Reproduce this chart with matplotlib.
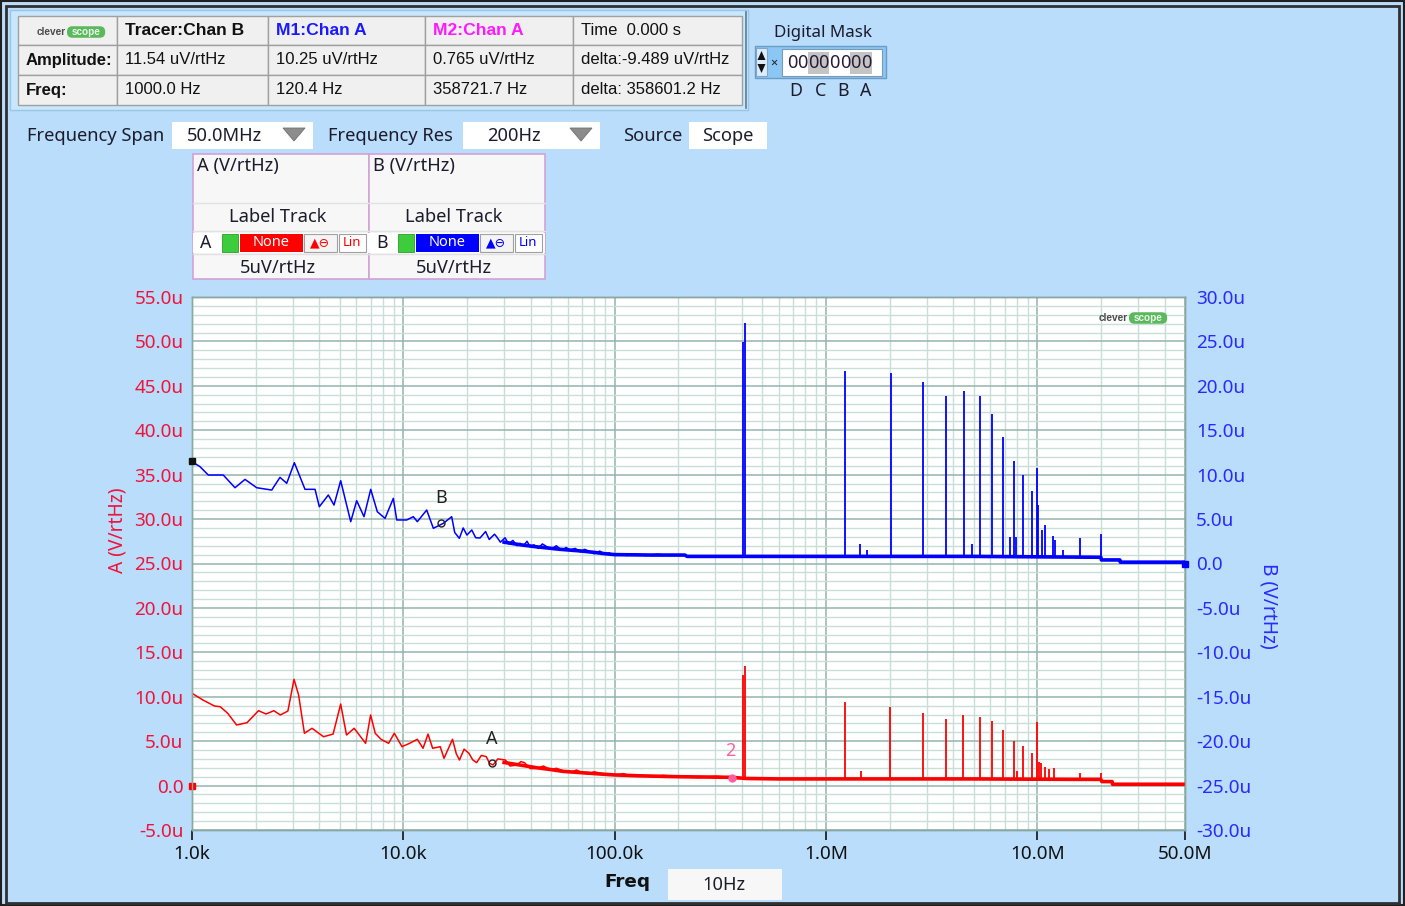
import matplotlib
matplotlib.use("Agg")
import matplotlib.pyplot as plt
from matplotlib.patches import Rectangle, Polygon, FancyBboxPatch
from matplotlib.ticker import FixedLocator, NullFormatter, MultipleLocator

# ---------------- data ----------------
# channel A (red, left axis, uV/rtHz)
A_FREQ = [1000, 1127, 1276, 1360, 1477, 1626, 1821, 2064, 2242, 2439, 2617, 2843,
          3039, 3195, 3404, 3698, 4192, 4654, 5053, 5385, 5851, 6632, 7003, 7362,
          7844, 8519, 9066, 9858, 10710, 11650, 12397, 13090, 13760, 14950, 15580,
          17090, 17800, 18430, 19400, 20440, 21300, 22230, 23400, 24690, 25600,
          26580, 28000, 30390, 32000, 34450, 36000, 37420, 40000, 43300, 46000,
          50100, 53000, 56800, 62000, 66000, 69960, 75000, 80000, 86240, 93000,
          101900, 110000, 120000, 130700, 150000, 170000, 198500, 250000, 300000,
          355500]
A_VAL = [10.39, 9.63, 8.96, 8.88, 8.13, 6.82, 7.08, 8.43, 8.06, 8.43, 7.95, 8.39,
         11.96, 10.2, 5.89, 6.45, 5.5, 5.8, 9.18, 5.69, 6.45, 4.76, 7.95, 5.89,
         5.21, 4.76, 5.89, 4.38, 4.76, 5.21, 4.2, 5.8, 4.2, 4.38, 3.07,
         5.21, 3.6, 2.88, 4.1, 3.63, 2.9, 2.58, 3.4, 3.26, 2.5,
         2.32, 3.0, 2.88, 2.2, 2.32, 2.7, 2.58, 1.9, 1.95, 2.2,
         1.76, 1.95, 1.68, 1.5, 1.75, 1.46, 1.3, 1.55, 1.38, 1.15,
         1.19, 1.35, 1.05, 1.19, 1.0, 1.15, 1.0, 0.9, 1.05,
         0.93]
# channel A noise floor (drawn as a thick band)
A_FLOOR_FREQ = [30e3, 36e3, 43e3, 50e3, 57e3, 70e3, 86e3, 100e3, 130e3, 200e3,
                355e3, 420e3, 600e3, 1e6, 5e6, 15e6, 20e6, 20.2e6, 22.6e6, 22.7e6,
                50e6]
A_FLOOR_VAL = [2.6, 2.3, 2.0, 1.8, 1.6, 1.45, 1.3, 1.2, 1.1, 1.0,
               0.93, 0.8, 0.75, 0.75, 0.75, 0.7, 0.7, 0.45, 0.45, 0.15,
               0.15]
A_SPIKE_FREQ = [403.5e3, 412e3, 1.224e6, 1.46e6, 2.02e6, 2.865e6, 3.7e6, 4.47e6, 5.34e6,
                6.1e6, 6.89e6, 7.72e6, 8.05e6, 8.52e6, 9.42e6, 9.95e6, 10.15e6,
                10.46e6, 10.87e6, 11.35e6, 12.0e6, 15.9e6, 20.1e6]
A_SPIKE_VAL = [12.45, 13.46, 9.44, 1.64, 8.88, 8.13, 7.46, 7.91, 7.72,
               7.27, 6.26, 5.05, 1.68, 4.49, 3.63, 7.19, 2.69,
               2.5, 2.13, 1.9, 2.0, 1.46, 1.46]

# channel B (blue, right axis, uV/rtHz)
B_FREQ = [1000, 1091, 1194, 1406, 1598, 1782, 2024, 2384, 2609, 2807, 3050, 3426,
          3821, 4004, 4417, 4699, 5053, 5637, 6017, 6516, 7011, 7532, 8194, 8968,
          9307, 10380, 11150, 11650, 12900, 13870, 15460, 16940, 17500, 18410,
          19200, 20000, 21080, 22000, 23070, 24500, 25500, 27000, 27670, 28800,
          30290, 31500, 33000, 34500, 35670, 37000, 38500, 39780, 41500, 43500,
          45500, 47710, 50000, 53000, 56000, 59000, 61510, 65000, 69000, 72000,
          76460, 80000, 85000, 90000, 94000, 98590, 105000, 115000, 125000,
          140000, 160000, 180000, 203900]
B_VAL = [11.46, 10.9, 9.96, 9.96, 8.53, 9.47, 8.53, 8.27, 9.7, 9.03, 11.35, 8.35,
         8.35, 6.39, 7.71, 6.58, 9.32, 4.71, 7.07, 5.27, 8.35, 5.83, 5.08, 7.33,
         4.9, 4.9, 5.27, 4.71, 6.02, 3.96, 4.52, 5.27, 3.5, 2.83,
         4.0, 3.2, 3.77, 2.9, 2.87, 3.6, 2.7, 3.3, 3.0, 2.4,
         2.9, 2.2, 2.6, 2.0, 2.27, 2.0, 2.5, 1.9, 2.1, 1.7,
         2.2, 1.9, 1.6, 2.0, 1.5, 1.8, 1.52, 1.7, 1.3, 1.6,
         1.33, 1.1, 1.4, 1.05, 1.2, 0.96, 1.1, 0.9, 1.1,
         0.9, 1.05, 0.9, 0.96]
B_FLOOR_FREQ = [30e3, 36e3, 42e3, 48e3, 55e3, 62e3, 70e3, 80e3, 90e3, 100e3, 150e3,
                215e3, 220e3, 400e3, 1e6, 5e6, 10.3e6, 20e6, 20.1e6, 24.6e6, 24.7e6,
                50e6]
B_FLOOR_VAL = [2.4, 2.1, 1.9, 1.75, 1.6, 1.5, 1.4, 1.25, 1.1, 1.0, 0.95,
               0.95, 0.8, 0.8, 0.8, 0.8, 0.75, 0.7, 0.4, 0.4, 0.15,
               0.15]
B_SPIKE_FREQ = [403.8e3, 412.7e3, 1.2246e6, 1.4501e6, 1.5648e6, 2.0306e6, 2.868e6,
                3.714e6, 4.484e6, 4.935e6, 5.339e6, 6.131e6, 6.89e6, 7.394e6, 7.741e6,
                7.972e6, 8.521e6, 9.42e6, 9.946e6, 10.11e6, 10.54e6, 10.89e6,
                11.84e6, 12.09e6, 13.25e6, 15.86e6, 20.04e6]
B_SPIKE_VAL = [24.97, 27.04, 21.67, 2.2, 1.5, 21.4, 20.4,
               18.86, 19.42, 2.2, 18.86, 16.83, 14.2, 3.0, 11.57,
               3.0, 9.96, 8.2, 10.79, 6.58, 3.77, 4.33,
               3.13, 2.6, 1.52, 2.83, 3.32]

# cursors / markers
TRACER_FREQ, TRACER_AMP = 1000.0, 11.54
M2_FREQ, M2_AMP = 358721.7, 0.765
CURSOR_B = (15080, 4.56)
CURSOR_A = (26290, 2.54)

XTICKS = [1e3, 1e4, 1e5, 1e6, 1e7, 5e7]
XTICK_LABELS = ['1.0k', '10.0k', '100.0k', '1.0M', '10.0M', '50.0M']
A_TICKS = [-5, 0, 5, 10, 15, 20, 25, 30, 35, 40, 45, 50, 55]
B_TICKS = [-30, -25, -20, -15, -10, -5, 0, 5, 10, 15, 20, 25, 30]

TABLE_ROWS = [
    ['', 'Tracer:Chan B', 'M1:Chan A', 'M2:Chan A', 'Time  0.000 s'],
    ['Amplitude:', '11.54 uV/rtHz', '10.25 uV/rtHz', '0.765 uV/rtHz', 'delta:-9.489 uV/rtHz'],
    ['Freq:', '1000.0 Hz', '120.4 Hz', '358721.7 Hz', 'delta: 358601.2 Hz'],
]

# ---------------- styling ----------------
W, H = 1405, 906
BG = '#b9ddfa'
RED = '#ff0000'
BLUE = '#0000ff'
UI_FONT = ['Noto Sans', 'DejaVu Sans']
TBL_FONT = ['Liberation Sans', 'DejaVu Sans']
BOLD_FONT = ['DejaVu Sans']
FS = 13.2
plt.rcParams['font.family'] = UI_FONT

fig = plt.figure(figsize=(W / 100, H / 100), dpi=100)
fig.patch.set_facecolor(BG)

# overlay axes in pixel coordinates for the UI furniture
ui = fig.add_axes([0, 0, 1, 1], zorder=3)
ui.set_xlim(0, W)
ui.set_ylim(H, 0)
ui.axis('off')
ui.patch.set_visible(False)


def box(x0, y0, x1, y1, fc, ec='none', lw=1.0, z=1):
    ui.add_patch(Rectangle((x0, y0), x1 - x0, y1 - y0, facecolor=fc,
                           edgecolor=ec, lw=lw, zorder=z))


def txt(x, y, s, **kw):
    kw.setdefault('va', 'center')
    kw.setdefault('fontsize', FS)
    kw.setdefault('color', '#1c1c2c')
    ui.text(x, y, s, zorder=5, **kw)


def logo(x, y, size):
    # "clever" + green "scope" pill
    txt(x, y, 'clever', fontsize=size, fontweight='bold', color='#4a4a4a',
        family=TBL_FONT, ha='right')
    w = size * 5.3
    ui.add_patch(FancyBboxPatch((x + 1, y - size * 0.8), w, size * 1.6,
                                boxstyle='round,pad=0,rounding_size=%f' % (size * 0.75),
                                fc='#5cb85c', ec='none', zorder=4))
    txt(x + 1 + w / 2, y, 'scope', fontsize=size, fontweight='bold', color='#e8f8e8',
        family=TBL_FONT, ha='center')


# window frame
box(1, 1, W - 1, H - 1, 'none', ec='#202020', lw=1.5, z=6)
box(6, 6, W - 6, H - 3, 'none', ec='#303030', lw=2.0, z=6)

# readout panel + table
box(10, 10, 748, 110, '#c9e7fb', ec='#9cc4e4', lw=1)
ui.plot([746, 746], [12, 108], color='#5a7a98', lw=1.2, zorder=2)
cols = [18, 117, 268, 425, 573, 742]
rows = [16, 45, 75, 105]
for r in range(3):
    for c in range(5):
        box(cols[c], rows[r], cols[c + 1], rows[r + 1], '#f0f0f0', ec='#a0a0a0', lw=1)
head_col = ['#111111', '#111111', '#1a1aff', '#ff19ff', '#111111']
for r, row in enumerate(TABLE_ROWS):
    yc = (rows[r] + rows[r + 1]) / 2
    for c, s in enumerate(row):
        if not s:
            continue
        bold = (r == 0 and c in (1, 2, 3)) or c == 0
        size = 12.6 if bold else 12.0
        if c == 0:
            size = 12.0
        txt(cols[c] + 8, yc, s, fontsize=size, family=TBL_FONT,
            fontweight='bold' if bold else 'normal',
            color=head_col[c] if r == 0 else '#111111')
logo(66, 32, 7.2)

# digital mask
txt(823, 33, 'Digital Mask', ha='center', fontsize=12.2)
box(755, 46, 886, 78, '#8cc6f4', ec='#6a9cc8', lw=1)
box(756, 48, 767, 76, '#dcecf8', ec='#7aa8d0', lw=0.8, z=2)
ui.add_patch(Polygon([[757.5, 60], [765.5, 60], [761.5, 51]], fc='#111111', zorder=3))
ui.add_patch(Polygon([[757.5, 64], [765.5, 64], [761.5, 73]], fc='#111111', zorder=3))
txt(774, 63, '×', ha='center', fontsize=9)
box(782, 49, 882, 76, 'white', ec='#7a9ab8', lw=0.8, z=2)
for i, ch in enumerate('00000000'):
    cx = 792 + 10.6 * i
    if i in (2, 3, 6, 7):
        box(cx - 5.3, 52, cx + 5.3, 74, '#c4c4c4', z=3)
    txt(cx, 63, ch, ha='center', fontsize=13, color='#2a1a3a')
for ch, cx in zip('DCBA', [796, 820, 843, 866]):
    txt(cx, 91, ch, ha='center', fontsize=12.8)

# frequency controls
txt(27, 136, 'Frequency Span')
box(172, 122, 313, 149, 'white')
txt(224, 136, '50.0MHz', ha='center')
txt(328, 136, 'Frequency Res')
box(463, 122, 600, 149, 'white')
txt(514, 136, '200Hz', ha='center')
for tx in (294, 581):
    ui.add_patch(Polygon([[tx - 11, 128], [tx + 11, 128], [tx, 141]], fc='#8c8c8c',
                         ec='#707070', lw=0.6, zorder=3))
txt(623, 136, 'Source')
box(689, 122, 767, 149, 'white')
txt(728, 136, 'Scope', ha='center')

# label track panel
for k, (name, col) in enumerate([('A', RED), ('B', BLUE)]):
    x0 = 193 + 176 * k
    x1 = x0 + 176
    box(x0, 154, x1, 279, '#f7f7f7', ec='#d2a2d6', lw=1.2)
    for yl in (203, 231, 254):
        ui.plot([x0, x1], [yl, yl], color='#e2e2e2', lw=1, zorder=2)
    txt(x0 + 4, 166, '%s (V/rtHz)' % name)
    txt(x0 + 85, 217, 'Label Track', ha='center')
    txt(x0 + 85, 268, '5uV/rtHz', ha='center')
    box(x0, 233, x1, 253, 'white', z=2)
    txt(x0 + 13, 243, name, ha='center', fontsize=12.8)
    box(x0 + 29, 234, x0 + 45, 252, '#3ccc3c', ec='#28a028', lw=0.6, z=3)
    box(x0 + 47, 234, x0 + 110, 252, col, z=3)
    txt(x0 + 78, 243, 'None', ha='center', fontsize=10.5, color='white')
    box(x0 + 111, 234, x0 + 144, 252, '#f4f4f4', ec='#a0a0a0', lw=0.8, z=3)
    txt(x0 + 127, 243, '▲⊖', ha='center', fontsize=9, color=col, family=BOLD_FONT)
    box(x0 + 146, 234, x0 + 173, 252, 'white', ec='#a0a0a0', lw=0.8, z=3)
    txt(x0 + 159, 243, 'Lin', ha='center', fontsize=9.5, color=col)

# axis titles and freq box
txt(118, 530, 'A (V/rtHz)', ha='center', rotation=90, fontsize=13.8, color='#f0143c')
txt(1268, 606, 'B (V/rtHz)', ha='center', rotation=270, fontsize=13.8, color='#2a2aff')
txt(627, 882, 'Freq', ha='center', fontsize=13.2, fontweight='bold', color='#111111',
    family=BOLD_FONT)
box(668, 869, 782, 900, '#f7f7f7')
txt(724, 885, '10Hz', ha='center')

# ---------------- spectrum plot ----------------
ax = fig.add_axes([192 / W, 1 - 830 / H, (1185 - 192) / W, (830 - 297) / H], zorder=2)
ax.set_facecolor('white')
ax.set_xscale('log')
ax.set_xlim(1e3, 5e7)
ax.set_ylim(-5, 55)
ax2 = ax.twinx()
ax2.set_ylim(-30, 30)

ax.xaxis.set_major_locator(FixedLocator(XTICKS))
ax.set_xticklabels(XTICK_LABELS)
minors = [m * 10 ** d for d in range(3, 8) for m in range(2, 10) if m * 10 ** d < 5e7]
ax.xaxis.set_minor_locator(FixedLocator(minors))
ax.xaxis.set_minor_formatter(NullFormatter())
ax.yaxis.set_major_locator(FixedLocator(A_TICKS))
ax.yaxis.set_minor_locator(MultipleLocator(1))
ax.set_yticklabels(['%.1fu' % v if v else '0.0' for v in A_TICKS])
ax2.yaxis.set_major_locator(FixedLocator(B_TICKS))
ax2.set_yticklabels(['%.1fu' % v if v else '0.0' for v in B_TICKS])

ax.grid(which='major', color='#93b4ac', lw=1.1)
ax.grid(which='minor', color='#c8ded8', lw=1.0)
ax.set_axisbelow(True)
ax.tick_params(axis='x', which='major', length=7, width=1.2, color='#111111',
               labelsize=13.6, pad=4, labelcolor='#111111')
ax.tick_params(axis='x', which='minor', length=0)
ax.tick_params(axis='y', which='both', length=0, labelsize=13.6, pad=6,
               labelcolor='#f0143c')
ax2.tick_params(axis='y', length=0, labelsize=13.6, pad=8, labelcolor='#2a2aff')
for a in (ax, ax2):
    for sp in a.spines.values():
        sp.set_color('#8aa8a2')
        sp.set_linewidth(1)
ax.spines['top'].set_color('#7a8a88')

# channel A (red)
ax.plot(A_FREQ, A_VAL, color=RED, lw=1.1, zorder=3)
ax.plot(A_FLOOR_FREQ, A_FLOOR_VAL, color=RED, lw=2.6, zorder=3)
ax.vlines(A_SPIKE_FREQ, 0.8, A_SPIKE_VAL, color=RED, lw=1.3, zorder=3)
ax.plot([1e3], [0], marker='s', ms=5, color=RED, clip_on=False, zorder=5)
ax.plot([M2_FREQ], [M2_AMP + 0.1], marker='o', ms=5, color='#ff5fa0', zorder=5)
ax.text(M2_FREQ * 0.98, 3.9, '2', color='#ff5fa0', fontsize=13, ha='center',
        va='center', zorder=5)
ax.plot([CURSOR_A[0]], [CURSOR_A[1]], marker='o', ms=5, mfc='none', mec='#222222',
        mew=1, zorder=5)
ax.text(CURSOR_A[0], CURSOR_A[1] + 2.7, 'A', color='#222222', fontsize=13,
        ha='center', va='center', zorder=5)

# channel B (blue)
ax2.plot(B_FREQ, B_VAL, color=BLUE, lw=1.1, zorder=3)
ax2.plot(B_FLOOR_FREQ, B_FLOOR_VAL, color=BLUE, lw=2.6, zorder=3)
ax2.vlines(B_SPIKE_FREQ, 0.8, B_SPIKE_VAL, color=BLUE, lw=1.3, zorder=3)
ax2.plot([5e7], [0], marker='s', ms=5, color=BLUE, clip_on=False, zorder=5)
ax2.plot([TRACER_FREQ], [TRACER_AMP], marker='s', ms=5, color='#111111',
         clip_on=False, zorder=5)
ax2.plot([CURSOR_B[0]], [CURSOR_B[1]], marker='o', ms=5, mfc='none', mec='#222222',
         mew=1, zorder=5)
ax2.text(CURSOR_B[0], CURSOR_B[1] + 2.8, 'B', color='#222222', fontsize=13,
         ha='center', va='center', zorder=5)

# logo inside the plot
logo(1128, 318, 7.2)

fig.savefig('out.png', dpi=100, facecolor=fig.get_facecolor())
